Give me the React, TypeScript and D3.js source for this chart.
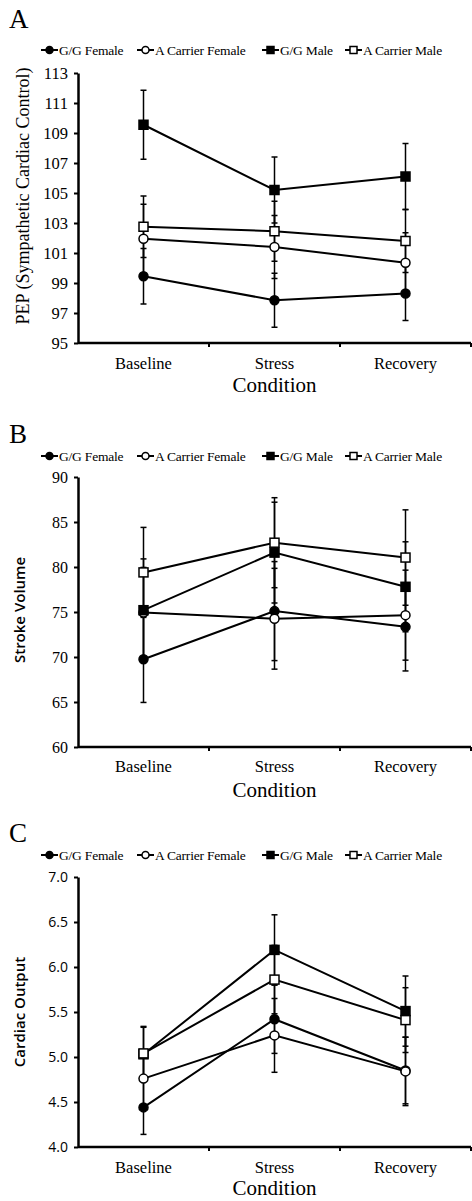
import * as d3 from "d3";
import { useEffect, useRef } from "react";

const conditions = ["Baseline", "Stress", "Recovery"];
const groups = ["G/G Female", "A Carrier Female", "G/G Male", "A Carrier Male"];
const groupFilled = [true, false, true, false];
const groupShape = ["circle", "circle", "square", "square"];

// panel A: PEP
const pepMean = [
  [99.45, 97.85, 98.3],
  [101.95, 101.4, 100.35],
  [109.55, 105.2, 106.1],
  [102.75, 102.45, 101.8],
];
const pepErr = [
  [1.85, 1.8, 1.8],
  [2.3, 2.1, 2.0],
  [2.3, 2.2, 2.2],
  [2.05, 2.0, 2.1],
];
const pepTicks = [95, 97, 99, 101, 103, 105, 107, 109, 111, 113];

// panel B: stroke volume
const svMean = [
  [69.75, 75.1, 73.35],
  [74.95, 74.25, 74.65],
  [75.2, 81.6, 77.8],
  [79.4, 82.7, 81.05],
];
const svErr = [
  [4.8, 5.5, 4.9],
  [5.0, 5.6, 5.0],
  [5.7, 5.6, 5.0],
  [5.0, 5.0, 5.3],
];
const svTicks = [60, 65, 70, 75, 80, 85, 90];

// panel C: cardiac output
const coMean = [
  [4.44, 5.42, 4.85],
  [4.76, 5.24, 4.84],
  [5.03, 6.19, 5.51],
  [5.04, 5.86, 5.41],
];
const coErr = [
  [0.3, 0.38, 0.37],
  [0.3, 0.41, 0.38],
  [0.3, 0.39, 0.39],
  [0.3, 0.38, 0.36],
];
const coTicks = [4.0, 4.5, 5.0, 5.5, 6.0, 6.5, 7.0];

const serif = "'Liberation Serif', 'Times New Roman', serif";
const sans = "'Open Sans', 'Noto Sans', sans-serif";

const width = 472;
const height = 1201;
const axisLeftX = 78;
const axisRightX = 471;

const panels = [
  {
    letter: "A",
    letterY: 28,
    legendY: 50,
    top: 73,
    bottom: 343,
    means: pepMean,
    errs: pepErr,
    ticks: pepTicks,
    fmt: (d: number) => String(d),
    tickFont: serif,
    tickSize: 16.5,
    title: "PEP (Sympathetic Cardiac Control)",
    titleFont: serif,
    titleSize: 18,
    titleWeight: 400,
    titleX: 29,
    titleY: 196,
    xLabelY: 369,
    condY: 392,
  },
  {
    letter: "B",
    letterY: 443,
    legendY: 456,
    top: 477,
    bottom: 747,
    means: svMean,
    errs: svErr,
    ticks: svTicks,
    fmt: (d: number) => String(d),
    tickFont: serif,
    tickSize: 16,
    title: "Stroke Volume",
    titleFont: sans,
    titleSize: 15,
    titleWeight: 600,
    titleX: 25,
    titleY: 610,
    xLabelY: 772,
    condY: 797,
  },
  {
    letter: "C",
    letterY: 842,
    legendY: 855,
    top: 877,
    bottom: 1147,
    means: coMean,
    errs: coErr,
    ticks: coTicks,
    fmt: d3.format(".1f"),
    tickFont: sans,
    tickSize: 14,
    title: "Cardiac Output",
    titleFont: sans,
    titleSize: 15,
    titleWeight: 600,
    titleX: 25,
    titleY: 1012,
    xLabelY: 1173,
    condY: 1195,
  },
];

const legendX = [41, 137, 262, 345];

function drawMarker(g: any, shape: string, filled: boolean, x: number, y: number, size: number) {
  if (shape === "circle") {
    g.append("circle")
      .attr("cx", x)
      .attr("cy", y)
      .attr("r", size / 2)
      .attr("fill", filled ? "#000" : "#fff")
      .attr("stroke", "#000")
      .attr("stroke-width", 1.5);
  } else {
    g.append("rect")
      .attr("x", x - size / 2)
      .attr("y", y - size / 2)
      .attr("width", size)
      .attr("height", size)
      .attr("fill", filled ? "#000" : "#fff")
      .attr("stroke", "#000")
      .attr("stroke-width", 1.5);
  }
}

export default function App() {
  const ref = useRef<SVGSVGElement>(null);

  useEffect(() => {
    document.body.style.margin = "0";
    const svg = d3.select(ref.current);
    svg.selectAll("*").remove();

    const xBand = d3.scaleBand().domain(conditions).range([axisLeftX, axisRightX]);
    const x = (c: string) => (xBand(c) as number) + xBand.bandwidth() / 2;

    panels.forEach((p) => {
      const g = svg.append("g");
      const y = d3
        .scaleLinear()
        .domain([p.ticks[0], p.ticks[p.ticks.length - 1]])
        .range([p.bottom, p.top]);

      // panel letter
      g.append("text")
        .attr("x", 9)
        .attr("y", p.letterY)
        .attr("font-family", serif)
        .attr("font-size", 27)
        .text(p.letter);

      // legend
      groups.forEach((name, i) => {
        const lx = legendX[i];
        g.append("line")
          .attr("x1", lx)
          .attr("x2", lx + 17)
          .attr("y1", p.legendY)
          .attr("y2", p.legendY)
          .attr("stroke", "#000")
          .attr("stroke-width", 2);
        drawMarker(g, groupShape[i], groupFilled[i], lx + 8.5, p.legendY, 7);
        g.append("text")
          .attr("x", lx + 18)
          .attr("y", p.legendY + 4.5)
          .attr("font-family", serif)
          .attr("font-size", 13.5)
          .attr("letter-spacing", -0.2)
          .text(name);
      });

      // y axis
      const yAxis = g
        .append("g")
        .attr("transform", `translate(${axisLeftX},0)`)
        .call(d3.axisLeft(y).tickValues(p.ticks).tickFormat(p.fmt as any).tickSize(4).tickPadding(6).tickSizeOuter(0));
      yAxis.select(".domain").attr("stroke-width", 2.5);
      yAxis.selectAll(".tick line").attr("stroke-width", 2);
      yAxis
        .selectAll(".tick text")
        .attr("font-family", p.tickFont)
        .attr("font-size", p.tickSize)
        .attr("fill", "#000");

      // x axis
      g.append("line")
        .attr("x1", axisLeftX)
        .attr("x2", axisRightX)
        .attr("y1", p.bottom)
        .attr("y2", p.bottom)
        .attr("stroke", "#000")
        .attr("stroke-width", 2.5);
      conditions.forEach((c) => {
        const edge = (xBand(c) as number) + xBand.bandwidth();
        g.append("line")
          .attr("x1", edge)
          .attr("x2", edge)
          .attr("y1", p.bottom)
          .attr("y2", p.bottom + 4)
          .attr("stroke", "#000")
          .attr("stroke-width", 2);
        g.append("text")
          .attr("x", x(c))
          .attr("y", p.xLabelY)
          .attr("text-anchor", "middle")
          .attr("font-family", serif)
          .attr("font-size", 16.5)
          .text(c);
      });
      g.append("text")
        .attr("x", x(conditions[1]))
        .attr("y", p.condY)
        .attr("text-anchor", "middle")
        .attr("font-family", serif)
        .attr("font-size", 21)
        .text("Condition");

      // y title
      g.append("text")
        .attr("transform", `translate(${p.titleX},${p.titleY}) rotate(-90)`)
        .attr("text-anchor", "middle")
        .attr("font-family", p.titleFont)
        .attr("font-size", p.titleSize)
        .attr("font-weight", p.titleWeight)
        .text(p.title);

      // error bars
      p.means.forEach((row, i) => {
        row.forEach((m, j) => {
          const cx = x(conditions[j]);
          const lo = y(m - p.errs[i][j]);
          const hi = y(m + p.errs[i][j]);
          g.append("line")
            .attr("x1", cx)
            .attr("x2", cx)
            .attr("y1", lo)
            .attr("y2", hi)
            .attr("stroke", "#000")
            .attr("stroke-width", 1.5);
          [lo, hi].forEach((yy) => {
            g.append("line")
              .attr("x1", cx - 3)
              .attr("x2", cx + 3)
              .attr("y1", yy)
              .attr("y2", yy)
              .attr("stroke", "#000")
              .attr("stroke-width", 1.5);
          });
        });
      });

      // lines and markers
      const line = d3
        .line<number>()
        .x((_, j) => x(conditions[j]))
        .y((d) => y(d));
      p.means.forEach((row, i) => {
        g.append("path")
          .attr("d", line(row))
          .attr("fill", "none")
          .attr("stroke", "#000")
          .attr("stroke-width", 2);
        row.forEach((m, j) => {
          drawMarker(g, groupShape[i], groupFilled[i], x(conditions[j]), y(m), groupShape[i] === "circle" ? 9 : 9);
        });
      });
    });
  }, []);

  return <svg ref={ref} width={width} height={height} style={{ display: "block", background: "#fff" }}></svg>;
}
